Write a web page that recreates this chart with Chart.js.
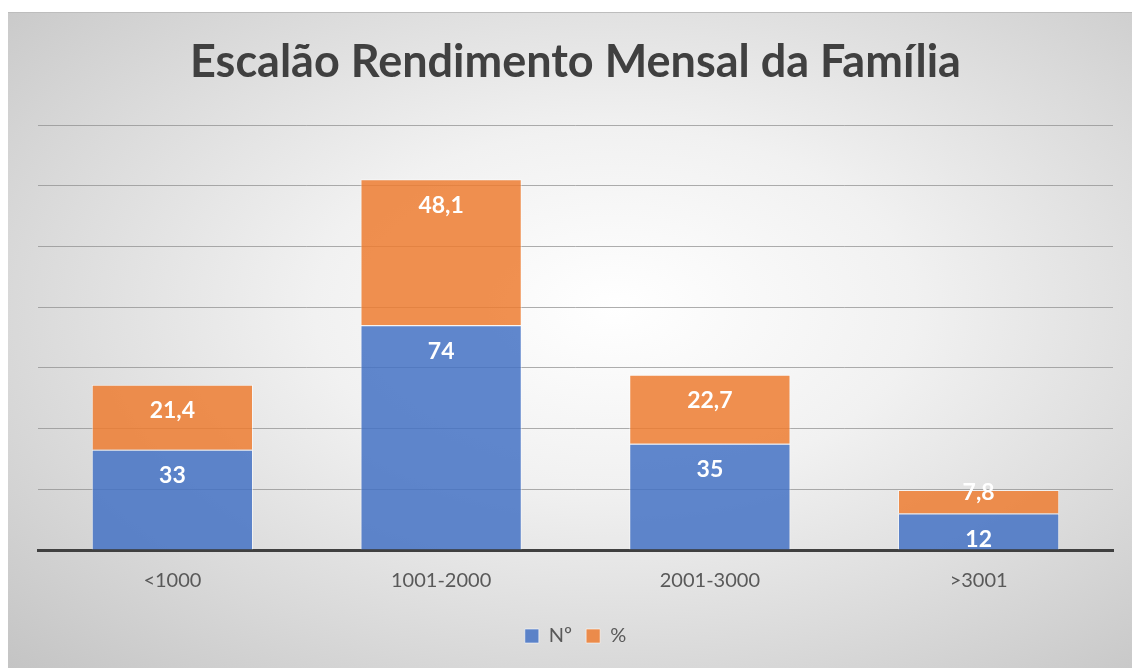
<!DOCTYPE html>
<html>
<head>
<meta charset="utf-8">
<script src="https://cdn.jsdelivr.net/npm/chart.js@4/dist/chart.umd.min.js"></script>
<style>
  html, body { margin: 0; padding: 0; background: #ffffff; }
  #frame {
    position: absolute;
    left: 8px;
    top: 12px;
    width: 1124px;
    height: 656px;
    border-top: 1px solid #bdbdbd;
    box-sizing: border-box;
    background: radial-gradient(ellipse farthest-corner at 54% 45%, #ffffff 0%, #f1f1f1 35%, #d9d9d9 70%, #c4c4c4 100%);
  }
  #chart { display: block; }
</style>
</head>
<body>
<div id="frame">
  <canvas id="chart" width="1124" height="655"></canvas>
</div>
<script>
"use strict";

let categories = ["<1000", "1001-2000", "2001-3000", ">3001"];
let countValues = [33, 74, 35, 12];
let percentValues = [21.4, 48.1, 22.7, 7.8];
let seriesNames = ["Nº", "%"];
let yTicks = [0, 20, 40, 60, 80, 100, 120, 140];

let fontName = "Lato, 'Open Sans', sans-serif";

// writes each value near the top, inside its bar piece (like Excel "inside end"),
// pushing a label up when it would sit on top of the one below
let barLabels = {
  id: "barLabels",
  afterDatasetsDraw(chart) {
    let ctx = chart.ctx;
    ctx.save();
    ctx.fillStyle = "#ffffff";
    ctx.font = "bold 23px " + fontName;
    ctx.textAlign = "center";
    ctx.textBaseline = "middle";
    let lastY = [];
    chart.data.datasets.forEach(function (ds, i) {
      let meta = chart.getDatasetMeta(i);
      meta.data.forEach(function (bar, j) {
        let text = String(ds.data[j]).replace(".", ",");
        let top = Math.min(bar.y, bar.base);
        let y = top + 26;
        if (lastY[j] !== undefined && lastY[j] - y < 40) {
          y = lastY[j] - 47;
        }
        lastY[j] = y;
        ctx.fillText(text, bar.x, y);
      });
    });
    ctx.restore();
  }
};

let ctx = document.getElementById("chart");
let chart = new Chart(ctx, {
  type: "bar",
  data: {
    labels: categories,
    datasets: [
      {
        label: seriesNames[0],
        data: countValues,
        backgroundColor: "rgba(68,114,196,0.85)",
        borderColor: "rgba(255,255,255,0.55)",
        borderWidth: 1
      },
      {
        label: seriesNames[1],
        data: percentValues,
        backgroundColor: "rgba(237,125,49,0.85)",
        borderColor: "rgba(255,255,255,0.55)",
        borderWidth: 1
      }
    ]
  },
  options: {
    responsive: false,
    animation: false,
    categoryPercentage: 1,
    barPercentage: 0.6,
    layout: { padding: { left: 30, right: 19, top: 0, bottom: 12 } },
    plugins: {
      title: {
        display: true,
        text: "Escalão Rendimento Mensal da Família",
        color: "#404040",
        font: { family: fontName, size: 45, weight: "bold" },
        padding: { top: 22, bottom: 36 }
      },
      legend: {
        position: "bottom",
        labels: {
          color: "#595959",
          font: { family: fontName, size: 20 },
          boxWidth: 14,
          boxHeight: 14,
          padding: 14
        }
      },
      tooltip: { enabled: false }
    },
    scales: {
      x: {
        stacked: true,
        grid: { display: false },
        border: { display: true, color: "#404040", width: 3 },
        ticks: {
          color: "#595959",
          font: { family: fontName, size: 20 },
          padding: 11
        },
        afterFit: function (axis) {
          axis.height += 8;
        }
      },
      y: {
        stacked: true,
        min: yTicks[0],
        max: yTicks[yTicks.length - 1],
        afterBuildTicks: function (axis) {
          axis.ticks = yTicks.map(function (v) { return { value: v }; });
        },
        ticks: { display: false },
        border: { display: false },
        grid: { color: "rgba(140,140,140,0.7)", lineWidth: 1, drawTicks: false }
      }
    }
  },
  plugins: [barLabels]
});
</script>
</body>
</html>
